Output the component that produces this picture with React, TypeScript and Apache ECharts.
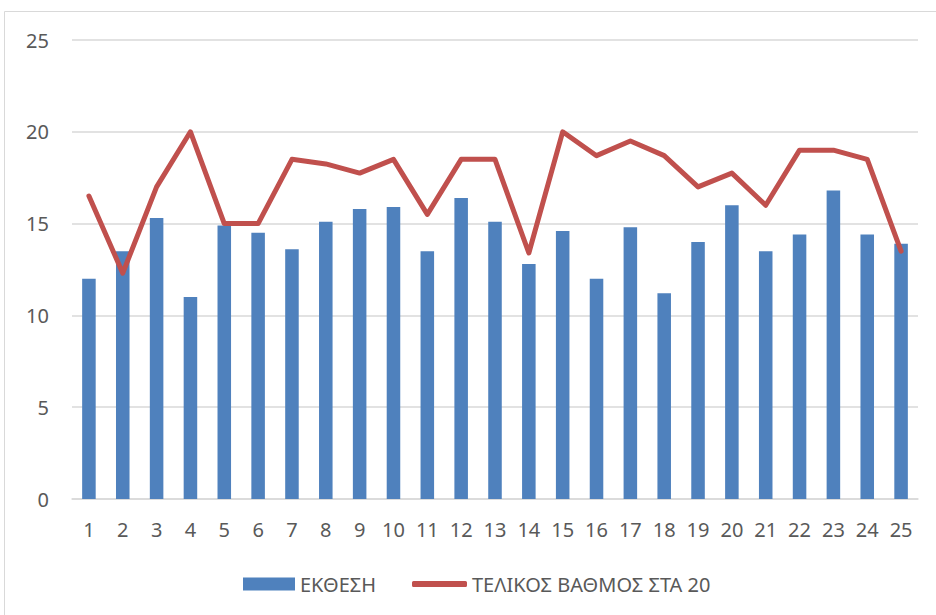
import React, { useEffect, useRef } from "react";
import * as echarts from "echarts";

const categories = ["1","2","3","4","5","6","7","8","9","10","11","12","13","14","15","16","17","18","19","20","21","22","23","24","25"];
const ektheshValues = [12, 13.5, 15.3, 11, 14.9, 14.5, 13.6, 15.1, 15.8, 15.9, 13.5, 16.4, 15.1, 12.8, 14.6, 12, 14.8, 11.2, 14, 16, 13.5, 14.4, 16.8, 14.4, 13.9];
const telikosValues = [16.5, 12.3, 17, 20, 15, 15, 18.5, 18.25, 17.75, 18.5, 15.5, 18.5, 18.5, 13.4, 20, 18.7, 19.5, 18.7, 17, 17.75, 16, 19, 19, 18.5, 13.5];
const barName = "ΕΚΘΕΣΗ";
const lineName = "ΤΕΛΙΚΟΣ ΒΑΘΜΟΣ ΣΤΑ 20";

const FONT = "'Noto Sans', sans-serif";
const TEXT_COLOR = "#595959";

export default function App() {
  const ref = useRef<HTMLDivElement>(null);
  useEffect(() => {
    if (!ref.current) return;
    const chart = echarts.init(ref.current, null, { renderer: "svg" });
    chart.setOption({
      animation: false,
      backgroundColor: "#ffffff",
      textStyle: { fontFamily: FONT },
      graphic: [
        {
          type: "rect",
          shape: { x: 4.5, y: 11.5, width: 960, height: 640 },
          style: { fill: "none", stroke: "#D9D9D9", lineWidth: 1 },
          silent: true,
          z: -1,
        },
      ],
      grid: { left: 72, right: 18, top: 40, bottom: 116, containLabel: false },
      legend: [
        {
          data: [{ name: barName, icon: "rect" }],
          left: 243,
          top: 574,
          padding: 0,
          itemWidth: 52,
          itemHeight: 13,
          textStyle: { color: TEXT_COLOR, fontSize: 20, fontFamily: FONT },
        },
        {
          data: [{ name: lineName, icon: "roundRect" }],
          left: 412,
          top: 574,
          padding: 0,
          itemWidth: 55,
          itemHeight: 6,
          itemStyle: { color: "#C0504D" },
          textStyle: { color: TEXT_COLOR, fontSize: 20, fontFamily: FONT },
        },
      ],
      xAxis: {
        type: "category",
        data: categories,
        axisLine: { show: true, lineStyle: { color: "#D9D9D9", width: 1.5 } },
        axisTick: { show: false },
        axisLabel: { color: TEXT_COLOR, fontSize: 20, margin: 20, fontFamily: FONT },
      },
      yAxis: {
        type: "value",
        min: 0,
        max: 25,
        interval: 5,
        axisLine: { show: false },
        axisTick: { show: false },
        axisLabel: { color: TEXT_COLOR, fontSize: 20, margin: 23, fontFamily: FONT },
        splitLine: { lineStyle: { color: "#D9D9D9", width: 1.5 } },
      },
      series: [
        {
          name: barName,
          type: "bar",
          data: ektheshValues,
          barWidth: "40%",
          itemStyle: { color: "#4F81BD" },
        },
        {
          name: lineName,
          type: "line",
          data: telikosValues,
          symbol: "none",
          lineStyle: { color: "#C0504D", width: 5, cap: "round", join: "round" },
          itemStyle: { color: "#C0504D" },
        },
      ],
    });
    return () => chart.dispose();
  }, []);
  return (
    <div
      ref={ref}
      style={{ position: "fixed", left: 0, top: 0, width: 936, height: 615 }}
    />
  );
}
